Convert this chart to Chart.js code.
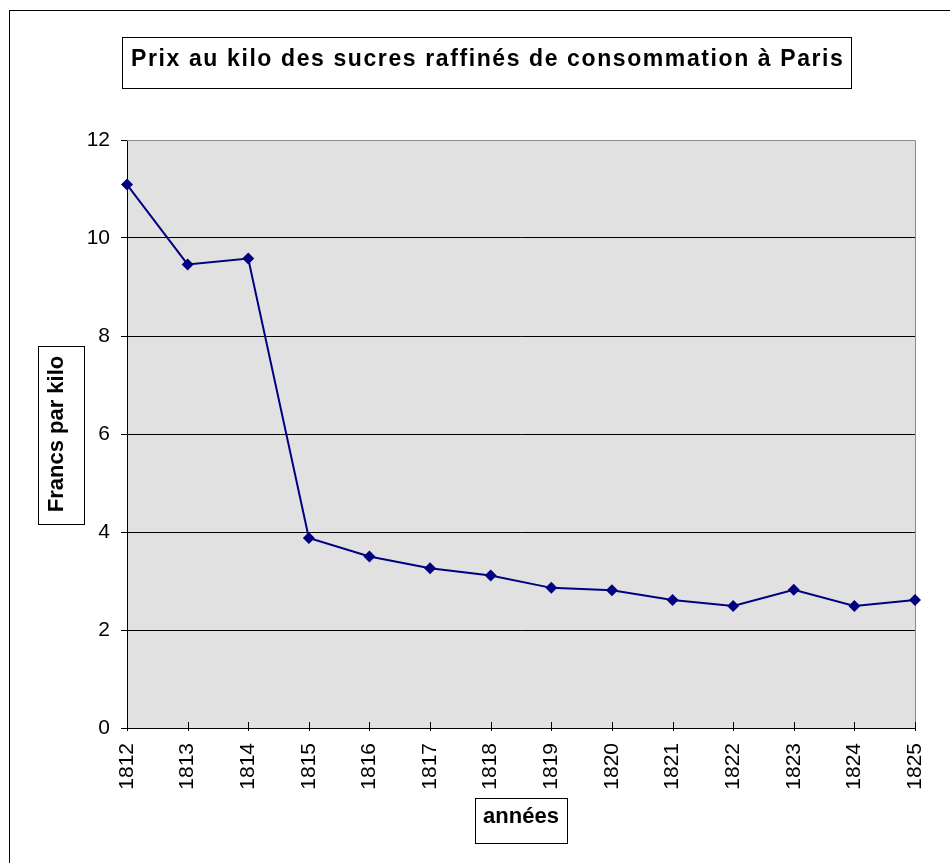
<!DOCTYPE html>
<html>
<head>
<meta charset="utf-8">
<script src="https://cdn.jsdelivr.net/npm/chart.js@4"></script>
<style>
html,body{margin:0;padding:0;background:#fff;}
#wrap{width:950px;height:863px;position:relative;}
</style>
</head>
<body>
<div id="wrap"><canvas id="c" width="950" height="863"></canvas></div>
<script>
const years = ['1812','1813','1814','1815','1816','1817','1818','1819','1820','1821','1822','1823','1824','1825'];
const prices = [11.09, 9.46, 9.58, 3.88, 3.50, 3.26, 3.11, 2.86, 2.81, 2.61, 2.49, 2.82, 2.49, 2.61];
const chartTitle = 'Prix au kilo des sucres raffinés de consommation à Paris';
const yTitle = 'Francs par kilo';
const xTitle = 'années';

const FONT = '"Liberation Sans", Arial, sans-serif';
const TITLE_SIZE = 22;

const decor = {
  id: 'decor',
  beforeDraw(chart) {
    const {ctx, chartArea: a} = chart;
    ctx.save();
    ctx.fillStyle = '#e1e1e1';
    ctx.fillRect(a.left, a.top, a.right - a.left, a.bottom - a.top);
    ctx.restore();
  },
  beforeDatasetsDraw(chart) {
    const {ctx, chartArea: a} = chart;
    ctx.save();
    ctx.strokeStyle = '#8a8a8a';
    ctx.lineWidth = 1;
    ctx.beginPath();
    ctx.moveTo(a.left, a.top + 0.5);
    ctx.lineTo(a.right + 0.5, a.top + 0.5);
    ctx.lineTo(a.right + 0.5, a.bottom);
    ctx.stroke();
    const xs = chart.scales.x;
    ctx.strokeStyle = '#000';
    ctx.beginPath();
    xs.ticks.forEach((t, i) => {
      const px = Math.round(xs.getPixelForTick(i)) + 0.5;
      ctx.moveTo(px, a.bottom - 6);
      ctx.lineTo(px, a.bottom + 3);
    });
    ctx.stroke();
    ctx.restore();
  },
  afterDraw(chart) {
    const {ctx, chartArea: a} = chart;
    ctx.save();
    ctx.strokeStyle = '#000';
    ctx.fillStyle = '#000';
    ctx.lineWidth = 1;
    ctx.strokeRect(9.5, 10.5, 1000, 1000);
    ctx.font = 'bold 23px ' + FONT;
    ctx.textAlign = 'center';
    ctx.textBaseline = 'middle';
    const sp = 1.6;
    if ('letterSpacing' in ctx) ctx.letterSpacing = sp + 'px';
    const tcx = 487;
    const tw = ctx.measureText(chartTitle).width;
    ctx.fillText(chartTitle, tcx + sp / 2, 60);
    ctx.strokeRect(Math.round(tcx - tw / 2 - 8) + 0.5, 37.5, Math.round(tw + 16), 51);
    if ('letterSpacing' in ctx) ctx.letterSpacing = '0px';
    ctx.font = 'bold ' + TITLE_SIZE + 'px ' + FONT;
    const yw = ctx.measureText(yTitle).width;
    const ycy = (a.top + a.bottom) / 2;
    ctx.strokeRect(38.5, Math.round(ycy - yw / 2 - 10) + 0.5, 46, Math.round(yw + 21));
    const xw = ctx.measureText(xTitle).width;
    const xcx = (a.left + a.right) / 2;
    ctx.strokeRect(Math.round(xcx - xw / 2 - 8) + 0.5, 798.5, Math.round(xw + 16), 45);
    ctx.restore();
  }
};

new Chart(document.getElementById('c'), {
  type: 'line',
  data: {
    labels: years,
    datasets: [{
      data: prices,
      borderColor: '#000080',
      backgroundColor: '#000080',
      borderWidth: 2,
      pointStyle: 'rectRot',
      pointRadius: 6,
      pointHoverRadius: 6,
      pointBackgroundColor: '#000080',
      pointBorderColor: '#000080',
      pointBorderWidth: 0,
      tension: 0,
      clip: false
    }]
  },
  options: {
    responsive: false,
    animation: false,
    layout: { padding: { left: 24, right: 35, top: 140, bottom: 0 } },
    plugins: {
      legend: { display: false },
      tooltip: { enabled: false },
      title: { display: false }
    },
    scales: {
      x: {
        type: 'category',
        offset: false,
        afterFit(s) { s.height = 135; s.paddingLeft = 0; s.paddingRight = 0; },
        grid: { display: true, drawOnChartArea: false, drawTicks: false },
        border: { display: true, color: '#000', width: 1 },
        ticks: {
          color: '#000',
          font: { family: FONT, size: 21 },
          minRotation: 90, maxRotation: 90,
          autoSkip: false,
          padding: 15
        },
        title: {
          display: true,
          text: xTitle,
          color: '#000',
          font: { family: FONT, size: TITLE_SIZE, weight: 'bold', lineHeight: 1.2 },
          padding: { top: 0, bottom: 32.4 }
        }
      },
      y: {
        min: 0, max: 12,
        afterFit(s) { s.width = 103; s.paddingTop = 0; s.paddingBottom = 0; },
        grid: {
          color: (c) => (c.tick && c.tick.value === 12) ? 'rgba(0,0,0,0)' : '#000',
          tickColor: '#000',
          tickLength: 6,
          lineWidth: 1
        },
        border: { display: true, color: '#000', width: 1 },
        ticks: {
          stepSize: 2,
          color: '#000',
          font: { family: FONT, size: 21 },
          padding: 11
        },
        title: {
          display: true,
          text: yTitle,
          color: '#000',
          font: { family: FONT, size: TITLE_SIZE, weight: 'bold', lineHeight: 1.2 },
          padding: { top: 20.2, bottom: 0 }
        }
      }
    }
  },
  plugins: [decor]
});
</script>
</body>
</html>
